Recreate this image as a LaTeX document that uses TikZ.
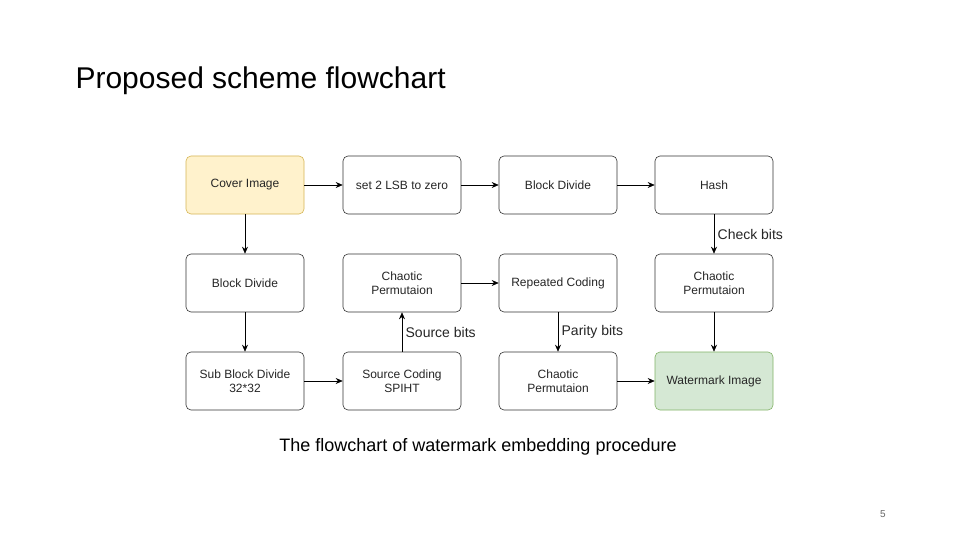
\documentclass[tikz,border=0pt]{standalone}
\usepackage{fontspec}
\setmainfont{Liberation Sans}
\usetikzlibrary{arrows.meta}
\definecolor{yel}{HTML}{FFF2CC}\definecolor{yelb}{HTML}{D6B656}
\definecolor{grn}{HTML}{D5E8D4}\definecolor{grnb}{HTML}{82B366}
\begin{document}
\begin{tikzpicture}[x=1pt,y=-1pt,
  box/.style={draw=black!80,rounded corners=5pt,minimum width=118pt,minimum height=58pt,align=center,font=\fontsize{12}{14}\selectfont,text=black!85,line width=0.6pt},
  arr/.style={-{Stealth[length=7pt,width=6pt]},line width=0.6pt},
  lbl/.style={font=\fontsize{14}{16}\selectfont,text=black!85}]
\useasboundingbox[fill=white] (0,0) rectangle (960,540);
\node[anchor=west,font=\fontsize{30}{34}\selectfont] (title) at (72,81) {Proposed scheme flowchart};
\node[box,fill=yel,draw=yelb] (a1) at (245,185) {Cover Image};
\node[box] (a2) at (402,185) {set 2 LSB to zero};
\node[box] (a3) at (558,185) {Block Divide};
\node[box] (a4) at (714,185) {Hash};
\node[box] (b1) at (245,283) {Block Divide};
\node[box] (b2) at (402,283) {Chaotic\\Permutaion};
\node[box] (b3) at (558,283) {Repeated Coding};
\node[box] (b4) at (714,283) {Chaotic\\Permutaion};
\node[box] (c1) at (245,381) {Sub Block Divide\\32*32};
\node[box] (c2) at (402,381) {Source Coding\\SPIHT};
\node[box] (c3) at (558,381) {Chaotic\\Permutaion};
\node[box,fill=grn,draw=grnb] (c4) at (714,381) {Watermark Image};
\draw[arr] (a1)--(a2); \draw[arr] (a2)--(a3); \draw[arr] (a3)--(a4);
\draw[arr] (a4)--node[lbl,right]{Check bits}(b4);
\draw[arr] (b4)--(c4);
\draw[arr] (a1)--(b1); \draw[arr] (b1)--(c1); \draw[arr] (c1)--(c2);
\draw[arr] (c2)--node[lbl,right]{Source bits}(b2);
\draw[arr] (b2)--(b3);
\draw[arr] (b3)--node[lbl,right]{Parity bits}(c3);
\draw[arr] (c3)--(c4);
\node[font=\fontsize{18}{20}\selectfont] (cap) at (478,447) {The flowchart of watermark embedding procedure};
\node[font=\fontsize{10}{12}\selectfont,text=black!60] (pg) at (883,514) {5};
\end{tikzpicture}
\end{document}
